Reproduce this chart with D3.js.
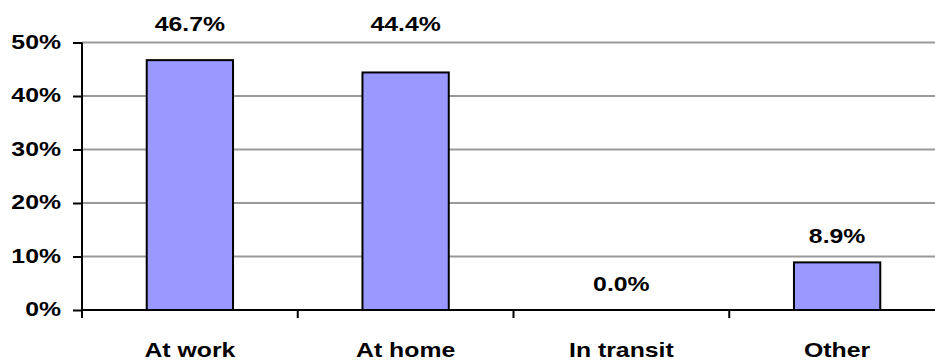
<!DOCTYPE html>
<html>
<head>
<meta charset="utf-8">
<script src="https://cdn.jsdelivr.net/npm/d3@7"></script>
<style>
  html, body { margin: 0; padding: 0; background: #fff; }
  svg { display: block; font-family: Arial, "Liberation Sans", sans-serif; }
</style>
</head>
<body>
<svg id="chart" width="935" height="363"></svg>
<script>
// Where the respondents were
const categories = ["At work", "At home", "In transit", "Other"];
const shares = [46.7, 44.4, 0.0, 8.9];
const yTicks = [0, 10, 20, 30, 40, 50];

const svg = d3.select("#chart");
const plot = { left: 82, right: 945, top: 42.5, bottom: 310 };
const FONT = 20.5;    // label font size
const WIDEN = 1.21;   // horizontal stretch of the labels

const x = d3.scaleBand().domain(categories).range([plot.left, plot.right]).padding(0);
const y = d3.scaleLinear().domain([0, 50]).range([plot.bottom, plot.top]);
const barW = x.bandwidth() * 0.4;

// Draw a bold, horizontally widened label at (px, py)
function label(g, px, py, anchor, txt, dy) {
  g.append("text")
    .attr("transform", `translate(${px},${py}) scale(${WIDEN},1)`)
    .attr("text-anchor", anchor)
    .attr("dy", dy || 0)
    .attr("font-size", FONT)
    .attr("font-weight", "bold")
    .attr("fill", "#000")
    .text(txt);
}

// Gridlines
svg.append("g")
  .selectAll("line")
  .data(yTicks.filter(d => d > 0))
  .join("line")
  .attr("x1", plot.left).attr("x2", plot.right)
  .attr("y1", d => y(d)).attr("y2", d => y(d))
  .attr("stroke", "#999").attr("stroke-width", 2);

// Bars
svg.append("g")
  .selectAll("rect")
  .data(shares)
  .join("rect")
  .attr("x", (d, i) => x(categories[i]) + (x.bandwidth() - barW) / 2)
  .attr("y", d => y(d))
  .attr("width", barW)
  .attr("height", d => y(0) - y(d))
  .attr("fill", "#9999ff")
  .attr("stroke", "#000")
  .attr("stroke-width", 2);

// Y axis
const yAxis = d3.axisLeft(y).tickValues(yTicks).tickSize(9).tickFormat(d => d + "%");
const gy = svg.append("g").attr("transform", `translate(${plot.left},0)`).call(yAxis);
gy.select(".domain").attr("stroke", "#000").attr("stroke-width", 2)
  .attr("d", `M0,${plot.bottom}V${plot.top}`);
gy.selectAll(".tick line").attr("stroke", "#000").attr("stroke-width", 2);
gy.selectAll(".tick text").remove();
gy.selectAll(".tick").each(function (d) {
  label(d3.select(this), -21, -1.5, "end", d + "%", "0.35em");
});

// X axis with ticks between categories
const gx = svg.append("g").attr("transform", `translate(0,${plot.bottom})`);
gx.append("line")
  .attr("x1", plot.left).attr("x2", plot.right)
  .attr("stroke", "#000").attr("stroke-width", 2);
gx.selectAll("line.sep")
  .data(categories.concat([null]))
  .join("line")
  .attr("class", "sep")
  .attr("x1", (d, i) => plot.left + i * x.step())
  .attr("x2", (d, i) => plot.left + i * x.step())
  .attr("y1", 0).attr("y2", 8)
  .attr("stroke", "#000").attr("stroke-width", 2);
categories.forEach(c => label(gx, x(c) + x.bandwidth() / 2, 46.5, "middle", c));

// Value labels above bars; labels of tall bars sit in the band above the plot
const gv = svg.append("g");
shares.forEach((v, i) => {
  const above = y(v) - 19;
  const py = above < plot.top + 20 ? 31 : above;
  label(gv, x(categories[i]) + x.bandwidth() / 2, py, "middle", v.toFixed(1) + "%");
});
</script>
</body>
</html>
